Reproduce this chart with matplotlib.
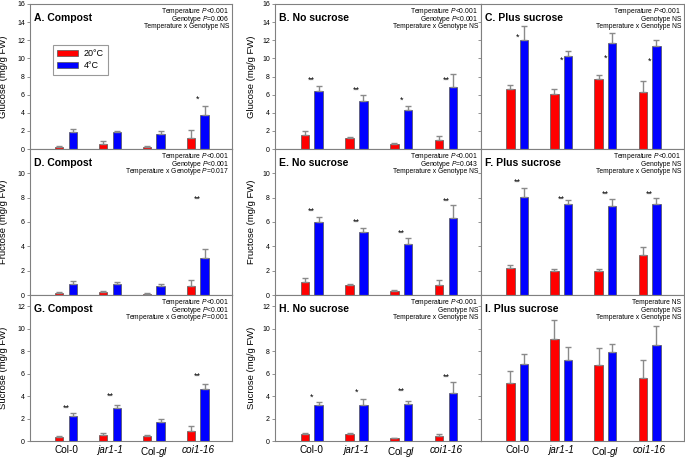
import numpy as np
import matplotlib.pyplot as plt
from matplotlib.patches import Patch

plt.rcParams['font.family'] = ['Liberation Sans', 'DejaVu Sans']
plt.rcParams['mathtext.fontset'] = 'custom'
plt.rcParams['mathtext.it'] = 'Liberation Sans:italic'
plt.rcParams['mathtext.rm'] = 'Liberation Sans'

# genotypes on the x axis
genotypes = ['Col-0', 'jar1-1', r'Col-$\mathit{gl}$', 'coi1-16']
genotype_italic = [False, True, False, True]

# A. Glucose, compost
glc_compost_20 = [0.25, 0.55, 0.22, 1.25]
glc_compost_20_err = [0.12, 0.3, 0.12, 0.8]
glc_compost_4 = [1.85, 1.85, 1.7, 3.75]
glc_compost_4_err = [0.35, 0.17, 0.33, 0.95]
glc_compost_stars = ['', '', '', '*']
glc_compost_star_y = [0, 0, 0, 5.5]

# B. Glucose, no sucrose
glc_nosuc_20 = [1.6, 1.2, 0.6, 1.0]
glc_nosuc_20_err = [0.4, 0.15, 0.08, 0.42]
glc_nosuc_4 = [6.4, 5.3, 4.25, 6.85]
glc_nosuc_4_err = [0.5, 0.65, 0.5, 1.4]
glc_nosuc_stars = ['**', '**', '*', '**']
glc_nosuc_star_y = [7.6, 6.5, 5.4, 7.6]

# C. Glucose, plus sucrose
glc_plussuc_20 = [6.65, 6.1, 7.75, 6.25]
glc_plussuc_20_err = [0.4, 0.5, 0.4, 1.2]
glc_plussuc_4 = [12.05, 10.25, 11.75, 11.4]
glc_plussuc_4_err = [1.55, 0.6, 1.1, 0.65]
glc_plussuc_stars = ['*', '*', '*', '*']
glc_plussuc_star_y = [12.3, 9.8, 10.0, 9.7]

# D. Fructose, compost
fru_compost_20 = [0.15, 0.22, 0.1, 0.77]
fru_compost_20_err = [0.08, 0.08, 0.04, 0.43]
fru_compost_4 = [0.9, 0.93, 0.7, 3.04]
fru_compost_4_err = [0.25, 0.1, 0.17, 0.7]
fru_compost_stars = ['', '', '', '**']
fru_compost_star_y = [0, 0, 0, 7.85]

# E. Fructose, no sucrose
fru_nosuc_20 = [1.07, 0.85, 0.33, 0.85]
fru_nosuc_20_err = [0.33, 0.07, 0.06, 0.35]
fru_nosuc_4 = [5.97, 5.15, 4.22, 6.33]
fru_nosuc_4_err = [0.47, 0.33, 0.44, 1.07]
fru_nosuc_stars = ['**', '**', '**', '**']
fru_nosuc_star_y = [6.9, 6.0, 5.1, 7.7]

# F. Fructose, plus sucrose
fru_plussuc_20 = [2.22, 2.0, 2.0, 3.29]
fru_plussuc_20_err = [0.25, 0.13, 0.12, 0.65]
fru_plussuc_4 = [8.05, 7.45, 7.34, 7.45]
fru_plussuc_4_err = [0.77, 0.35, 0.55, 0.52]
fru_plussuc_stars = ['**', '**', '**', '**']
fru_plussuc_star_y = [9.25, 7.9, 8.3, 8.3]

# G. Sucrose, compost
suc_compost_20 = [0.4, 0.56, 0.47, 0.89]
suc_compost_20_err = [0.08, 0.12, 0.09, 0.45]
suc_compost_4 = [2.23, 2.94, 1.66, 4.63]
suc_compost_4_err = [0.3, 0.3, 0.27, 0.48]
suc_compost_stars = ['**', '**', '', '**']
suc_compost_star_y = [2.95, 4.0, 0, 5.8]

# H. Sucrose, no sucrose
suc_nosuc_20 = [0.62, 0.62, 0.24, 0.45]
suc_nosuc_20_err = [0.06, 0.06, 0.03, 0.14]
suc_nosuc_4 = [3.18, 3.21, 3.3, 4.3]
suc_nosuc_4_err = [0.3, 0.53, 0.27, 0.95]
suc_nosuc_stars = ['*', '*', '**', '**']
suc_nosuc_star_y = [3.9, 4.3, 4.4, 5.65]

# I. Sucrose, plus sucrose
suc_plussuc_20 = [5.17, 9.12, 6.74, 5.64]
suc_plussuc_20_err = [1.05, 1.63, 1.57, 1.6]
suc_plussuc_4 = [6.86, 7.25, 7.9, 8.55]
suc_plussuc_4_err = [0.86, 1.1, 0.74, 1.72]
suc_plussuc_stars = ['', '', '', '']
suc_plussuc_star_y = [0, 0, 0, 0]

W, H = 685, 459
fig = plt.figure(figsize=(W / 100, H / 100), dpi=100)

col_px = [(30, 232), (275, 481), (481, 684)]
row_px = [(4, 149), (149, 295), (295, 441)]


def make_ax(c, r):
    x0, x1 = col_px[c]
    y0, y1 = row_px[r]
    return fig.add_axes([x0 / W, 1 - y1 / H, (x1 - x0) / W, (y1 - y0) / H])


def draw(ax, v20, e20, v4, e4, stars, star_y, title, stats, ylim, yticks):
    x = np.arange(len(genotypes))
    ekw = dict(ecolor='#8a8a8a', elinewidth=1.0, capsize=2.2, capthick=1.0)
    ax.bar(x - 0.155, v20, 0.19, color='#ff0000', edgecolor='#555555',
           linewidth=0.5, yerr=[np.zeros(4), e20], error_kw=ekw)
    ax.bar(x + 0.155, v4, 0.19, color='#0000ff', edgecolor='#555555',
           linewidth=0.5, yerr=[np.zeros(4), e4], error_kw=ekw)
    for xi, s, sy in zip(x, stars, star_y):
        if s:
            ax.text(xi, sy, s, ha='center', va='center', fontsize=6.5)
    ax.set_xlim(-0.82, 3.78)
    ax.set_ylim(*ylim)
    ax.set_yticks(yticks)
    ax.set_xticks(x)
    ax.tick_params(axis='x', length=0, labelbottom=False)
    ax.tick_params(axis='y', length=2.2, width=0.6, color='#808080',
                   labelsize=5, pad=1.5)
    for sp in ax.spines.values():
        sp.set_color('#808080')
        sp.set_linewidth(0.8)
    ax.text(0.02, 0.905, title, transform=ax.transAxes, fontsize=7.5,
            fontweight='bold', ha='left', va='center')
    # three lines of statistics, evenly spaced from the top right corner
    for i, line in enumerate(stats):
        ax.annotate(line, xy=(0.985, 1), xycoords='axes fraction',
                    xytext=(0, -7.6 - 7.6 * i), textcoords='offset pixels',
                    fontsize=4.9, ha='right', va='center')


P = r'$\mathit{P}$'
row_ylim = [(0, 16), (0, 12), (0, 13)]
row_yticks = [np.arange(0, 17, 2), np.arange(0, 11, 2), np.arange(0, 13, 2)]
row_ylabel = ['Glucose (mg/g FW)', 'Fructose (mg/g FW)', 'Sucrose (mg/g FW)']

panels = [
    (0, 0, glc_compost_20, glc_compost_20_err, glc_compost_4, glc_compost_4_err,
     glc_compost_stars, glc_compost_star_y, 'A. Compost',
     ['Temperature ' + P + '<0.001', 'Genotype ' + P + '=0.006',
      'Temperature x Genotype NS']),
    (1, 0, glc_nosuc_20, glc_nosuc_20_err, glc_nosuc_4, glc_nosuc_4_err,
     glc_nosuc_stars, glc_nosuc_star_y, 'B. No sucrose',
     ['Temperature ' + P + '<0.001', 'Genotype ' + P + '<0.001',
      'Temperature x Genotype NS']),
    (2, 0, glc_plussuc_20, glc_plussuc_20_err, glc_plussuc_4, glc_plussuc_4_err,
     glc_plussuc_stars, glc_plussuc_star_y, 'C. Plus sucrose',
     ['Temperature ' + P + '<0.001', 'Genotype NS',
      'Temperature x Genotype NS']),
    (0, 1, fru_compost_20, fru_compost_20_err, fru_compost_4, fru_compost_4_err,
     fru_compost_stars, fru_compost_star_y, 'D. Compost',
     ['Temperature ' + P + '<0.001', 'Genotype ' + P + '<0.001',
      'Temperature x Genotype ' + P + '=0.017']),
    (1, 1, fru_nosuc_20, fru_nosuc_20_err, fru_nosuc_4, fru_nosuc_4_err,
     fru_nosuc_stars, fru_nosuc_star_y, 'E. No sucrose',
     ['Temperature ' + P + '<0.001', 'Genotype ' + P + '=0.043',
      'Temperature x Genotype NS']),
    (2, 1, fru_plussuc_20, fru_plussuc_20_err, fru_plussuc_4, fru_plussuc_4_err,
     fru_plussuc_stars, fru_plussuc_star_y, 'F. Plus sucrose',
     ['Temperature ' + P + '<0.001', 'Genotype NS',
      'Temperature x Genotype NS']),
    (0, 2, suc_compost_20, suc_compost_20_err, suc_compost_4, suc_compost_4_err,
     suc_compost_stars, suc_compost_star_y, 'G. Compost',
     ['Temperature ' + P + '<0.001', 'Genotype ' + P + '<0.001',
      'Temperature x Genotype ' + P + '=0.001']),
    (1, 2, suc_nosuc_20, suc_nosuc_20_err, suc_nosuc_4, suc_nosuc_4_err,
     suc_nosuc_stars, suc_nosuc_star_y, 'H. No sucrose',
     ['Temperature ' + P + '<0.001', 'Genotype NS',
      'Temperature x Genotype NS']),
    (2, 2, suc_plussuc_20, suc_plussuc_20_err, suc_plussuc_4, suc_plussuc_4_err,
     suc_plussuc_stars, suc_plussuc_star_y, 'I. Plus sucrose',
     ['Temperature NS', 'Genotype NS', 'Temperature x Genotype NS']),
]

for c, r, v20, e20, v4, e4, st, sty, title, stats in panels:
    ax = make_ax(c, r)
    draw(ax, v20, e20, v4, e4, st, sty, title, stats, row_ylim[r], row_yticks[r])
    if c == 2:
        ax.tick_params(axis='y', labelleft=False)
    else:
        ax.set_ylabel(row_ylabel[r], fontsize=6.8)
        ax.yaxis.set_label_coords(-0.108 if c == 0 else -0.09, 0.5)
    if r == 2:
        ax.tick_params(axis='x', labelbottom=True, labelsize=7.2, pad=3)
        ax.set_xticklabels(genotypes)
        for lab, it in zip(ax.get_xticklabels(), genotype_italic):
            if it:
                lab.set_fontstyle('italic')
    if c == 0 and r == 0:
        handles = [Patch(facecolor='#ff0000', edgecolor='#555555', linewidth=0.5),
                   Patch(facecolor='#0000ff', edgecolor='#555555', linewidth=0.5)]
        leg = ax.legend(handles, ['20\u00b0C', '4\u00b0C'], loc='upper left',
                        bbox_to_anchor=(0.09, 0.75), fontsize=6.5,
                        frameon=True, fancybox=False, handlelength=2.3,
                        handleheight=0.6, borderpad=0.5, labelspacing=0.3,
                        handletextpad=0.6)
        leg.get_frame().set_edgecolor('#808080')
        leg.get_frame().set_linewidth(0.8)

fig.savefig('out.png', dpi=100)
